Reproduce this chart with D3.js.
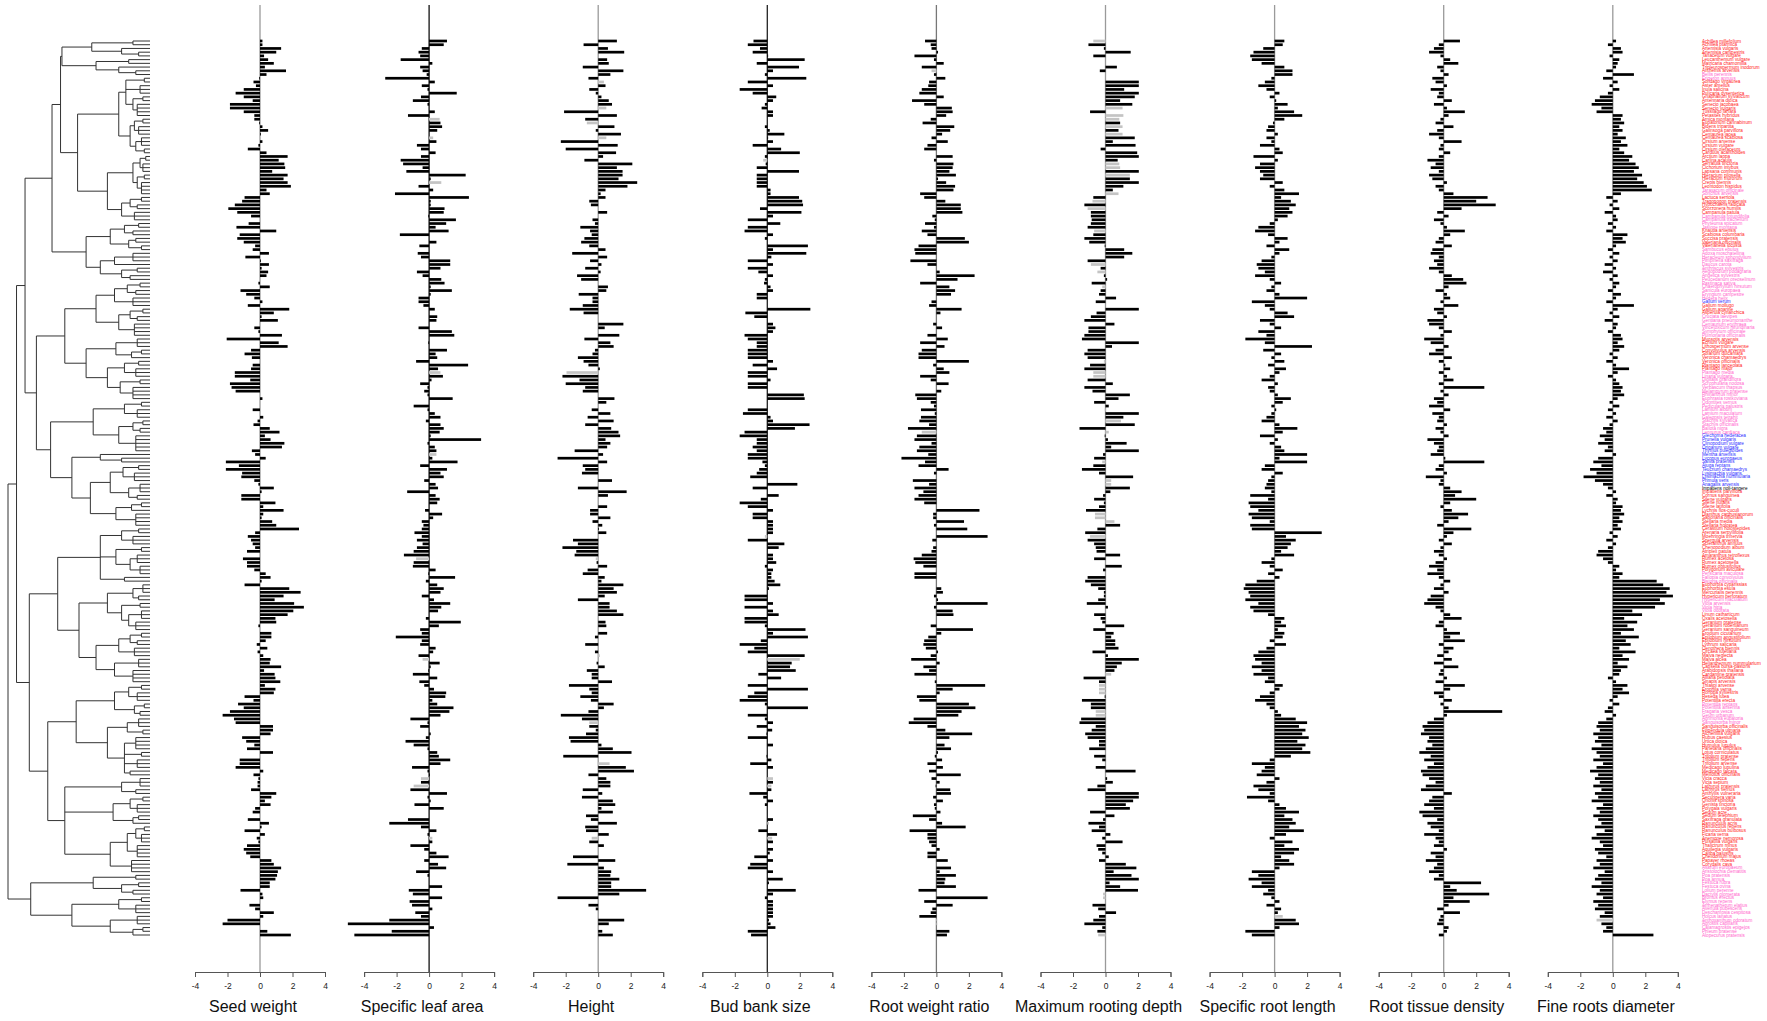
<!DOCTYPE html>
<html><head><meta charset="utf-8">
<script src="https://cdn.jsdelivr.net/npm/d3@7"></script>
<style>body{margin:0;background:#fff}svg{display:block;font-family:"Liberation Sans",Arial,sans-serif}</style>
</head><body><svg id="c" width="1767" height="1021"></svg>
<script>
const traits = ["Seed weight","Specific leaf area","Height","Bud bank size","Root weight ratio","Maximum rooting depth","Specific root length","Root tissue density","Fine roots diameter"];
const tickValues = [-4,-2,0,2,4];

const seedWeight = [
0.15,0.15,1.3,1.0,0.25,0.5,0.85,0.3,1.6,0.4,
-0.05,-0.4,-0.25,-1.0,-1.5,-1.0,-0.45,-1.85,-1.85,-1.0,
-0.35,-0.35,-0.05,0.15,0.5,0.05,0,0.15,-0.1,-0.75,
0.4,1.7,1.15,1.5,1.55,0.75,1.7,1.45,1.7,1.9,
0.4,0.6,-0.95,-1.1,-1.55,-1.95,-1.4,-0.55,0,-0.7,
-1.45,1.0,-1.25,-1.4,-1.0,-0.3,-0.45,0.55,-0.9,0.05,
0.55,0.1,0.5,0.4,0,-0.1,0.6,-1.2,-0.85,-0.35,
0.15,-0.75,1.8,0.85,0.1,1.1,0,-0.35,-0.1,1.35,
-2.05,1.15,1.7,-0.55,-0.95,-0.5,0,-0.45,-0.55,-1.55,
-1.55,-0.6,-1.85,-1.75,-1.5,0,0.15,0,0,-0.45,
0,0.2,-0.15,-0.4,0.6,1.2,0.3,0.65,1.5,1.35,
-0.5,-0.3,0.35,-2.1,-1.3,-2.1,-1.1,-1.15,-0.35,-0.1,
0.85,0.1,-1.15,-1.15,0.95,0.2,1.45,0.2,0.1,0.75,
1.0,2.4,-0.3,-0.75,-0.55,-0.45,-0.3,-0.8,0,-1.05,
-0.8,-0.8,-0.35,0.35,0.65,0.1,-0.95,1.8,2.5,1.45,
0.9,2.1,2.7,2.05,1.7,0.95,1.0,-0.1,0,0.7,
0.7,0.35,-0.2,0.45,-0.15,0.2,0.65,0.6,1.3,0.25,
0.9,0.95,1.25,0.3,0.95,0.85,-0.95,-0.4,-1.35,-1.0,
-1.85,-2.3,-1.6,-1.5,0.8,0.8,0.65,-1.1,-0.85,-0.35,
-0.8,0.8,0,-1.25,-1.25,-1.5,0.2,-0.4,-0.1,-0.15,
-0.15,-0.55,1.0,0.7,0.3,0.65,-0.3,-0.45,0,-0.75,
0.55,0.1,-0.95,0.3,-0.2,-0.1,-0.8,-1.0,-0.85,-0.6,
0.7,0.85,1.3,1.1,1.05,0.95,0.6,0.6,-1.2,0.15,
0.2,0,-0.65,-0.3,0.85,0.2,-2.0,-2.3,0,0.45,
1.9];
const seedWeightImputed = [];

const specificLeafArea = [
1.1,0.9,-0.45,-0.65,-0.55,-1.75,0.2,-0.55,-0.4,-0.15,
-2.7,0.35,-0.45,-0.1,1.7,-0.5,-1.0,-0.1,0,0.35,
-1.3,0.65,0.7,0.8,0.5,0,0.25,0.45,-0.75,-0.5,
0.4,-0.5,-1.75,-1.6,-0.4,-1.4,2.25,0.1,0.75,-0.65,
0.25,-2.1,2.45,0.1,0.1,0.95,0.9,-0.05,1.65,1.05,
0.4,1.2,-1.8,0,0.45,-0.6,0,-0.7,-0.5,1.3,
1.3,0.7,-0.75,-0.4,0.75,0.95,0.1,1.4,0.1,-0.65,
-0.65,-0.35,0.35,0,0.5,0.45,0,-0.65,1.4,1.55,
0,-0.05,0,1.1,0.4,0.5,-0.8,2.4,0.55,0.7,
0.85,0.15,-0.55,-0.1,-0.3,-0.1,1.45,0,-0.95,-0.1,
0.35,0.7,-0.2,0.7,0.9,0.65,0.1,3.2,-0.1,0.35,
0.45,0.45,0.2,1.75,-0.55,1.1,0.7,0.9,-0.3,0.4,
0.55,-1.35,0.4,0.65,0.5,0,-0.25,0.8,0.25,-0.45,
-0.35,-0.45,-0.9,-0.45,-0.75,-0.4,-0.75,-0.95,-1.55,-0.8,
-0.95,-1.0,0.4,-0.05,1.6,-0.2,0.5,0.9,0.7,-0.45,
0.3,1.3,0.75,0.55,0,-0.2,1.95,0.6,-0.55,-0.45,
-2.05,-0.45,-0.55,0.4,0.25,-0.65,-0.4,0.65,0.1,-0.05,
-1.0,0.5,-0.6,-0.3,0.3,1.05,1.0,0.2,0.5,1.5,
1.25,0.7,-1.15,-0.1,-0.55,0,0.1,-0.2,-1.45,-0.95,
-0.1,0.5,0.6,1.3,0.7,-1.05,-0.1,0.05,-0.5,-0.5,
-0.95,-1.15,1.1,-0.1,0.1,-0.9,0.9,0,0,-1.3,
-2.45,-0.5,0.45,-0.1,0.2,0.2,-1.15,-0.3,0.45,1.2,
-0.3,0.55,1.05,-0.8,-0.1,0,0,0.8,-1.25,-1.0,
0.8,-1.2,-1.05,0.2,-0.85,-0.5,-2.45,-5.0,0.3,-2.3,
-4.6];
const specificLeafAreaImputed = [21,26,38,89,111,139,166,198,200,214];

const height = [
1.15,-0.9,0.6,1.6,0,0.55,0.65,-0.95,1.55,0.75,
-0.6,0.35,0.45,-0.55,-0.15,0.2,0.65,0.85,0.5,-2.1,
1.15,-0.8,-0.7,1.0,-0.15,1.4,0.5,-2.3,1.2,-2.0,
1.1,0.3,-0.85,2.1,1.15,1.5,1.5,1.25,2.4,1.8,
0.45,0.15,0.45,-0.55,-0.45,0,0.55,0,-0.35,-0.2,
-1.1,-0.5,-0.4,-0.85,-1.05,-0.55,0.45,-1.6,0.55,-0.5,
0.2,-0.8,0.15,-1.3,-1.05,0,0.6,0.5,-1.2,-0.35,
-0.35,-0.95,-1.75,-0.9,0,0,1.55,0.4,0,1.3,
-0.85,0.75,0.95,-0.2,-0.35,-1.25,-0.9,-0.6,0.1,-1.95,
-2.2,-1.15,-2.0,-0.8,-0.95,0,1.0,0.5,0,-0.4,
0.75,-0.65,0.95,-0.8,0.8,1.25,1.35,0.45,0.75,0.55,
-1.45,0.3,-2.5,0.55,-0.95,-0.8,-1.0,0,0.85,0,
-1.25,1.75,0.6,0,0,0.55,-0.5,-0.5,0.75,-0.35,
0.25,0.05,0.5,0,-1.55,-1.25,-2.2,-1.35,-1.45,-0.15,
-0.1,0.55,-0.65,-0.95,0.4,0.2,1.55,0.95,1.15,0.4,
-1.25,0.7,0.7,1.15,1.55,0,0.45,0.5,0,0.55,
-0.2,0,-0.8,0,-0.2,0.1,0,-0.1,0.4,-0.7,
-0.4,-0.4,0.85,-1.8,-0.55,-0.4,-1.1,-0.45,0.95,0.35,
-0.6,-2.3,-1.0,-0.55,-0.55,-0.15,-0.75,-1.8,-1.7,0.2,
0.9,2.05,-2.15,0,0.7,1.7,2.2,-0.6,0.5,0.75,
0.75,-0.95,0.25,-1.0,0.9,1.05,0.2,0.9,-0.75,-0.45,
1.15,-0.8,-0.75,0.65,-0.4,-0.55,0.35,0,0,-1.55,
1.05,-1.9,0.35,0.8,0.75,1.3,0.8,0.8,2.95,1.3,
-2.5,0,-0.6,-0.15,0,0,1.6,0.65,0,0.25,
0.9];
const heightImputed = [11,18,22,26,89,139,165,183,194,214];

const budBankSize = [
-0.85,-1.2,-0.45,-0.9,0.05,2.3,-0.65,1.95,0.35,-0.15,
2.4,-1.2,0.35,-1.7,-0.9,0.55,0.35,-0.15,-0.35,0.35,
0.35,0,0,-0.15,0.15,1.05,0.05,0.35,-0.9,0.85,
2.0,-0.15,-0.25,-0.1,-0.65,1.95,-0.65,-0.65,-0.65,-0.65,
0.2,0.2,1.95,2.15,2.2,-0.45,2.1,0.35,-1.2,0.8,
-1.2,-1.4,0.35,-0.15,0,2.5,0.35,2.4,0.25,-1.2,
0.35,-1.2,-0.55,0.35,-0.15,-0.2,0.2,0.35,-0.65,-0.65,
0,0,2.65,-1.35,-0.8,0,0.35,0.5,0.35,-1.4,
-1.2,-0.65,-0.65,-1.2,-1.2,-1.2,0.35,-0.9,0.6,-1.2,
-1.2,0.2,-1.2,-1.2,0,2.25,2.3,0,0,-1.2,
-1.5,0.2,0.35,2.6,1.7,-1.4,-1.7,-0.65,-0.65,-0.9,
-0.65,-1.2,-1.2,-0.3,-0.15,-0.5,-0.65,-1.05,0,1.85,
-0.9,0,0.7,-0.4,-1.7,-1.2,0.35,-0.9,-0.9,0.35,
0.35,0.35,0.35,-0.15,-1.2,1.05,0.7,0,0.35,0.35,
0.55,-0.15,0.35,0.25,0.25,0.45,0.8,0.1,0,-1.4,
-1.4,0.35,-1.4,0.35,0.7,-1.4,-1.4,-0.15,2.35,0.35,
2.5,-0.4,-1.7,-0.8,-1.2,2.3,2.0,1.5,1.4,1.75,
-0.55,0.85,0,-1.2,2.5,-0.8,-1.2,-1.7,-0.15,2.5,
0,-1.2,-0.15,0.35,-0.65,0.3,-0.05,-1.2,0,0.35,
0,0,-0.05,0.25,-1.05,0.35,0,0,0.35,0.35,
0.25,0.25,-1.1,-0.25,0.35,-0.15,0,0,0,0.35,
0.1,0,-0.55,0.6,0.3,0.35,0,0.35,0.15,-0.8,
0.35,-1.05,-1.2,0.35,0,0.95,0.1,0,1.75,0.35,
-0.15,0.35,0.35,0.35,0.35,0.35,0.1,0.2,0.5,-1.2,
-1.0];
const budBankSizeImputed = [32,133,166,198,200,210,214];

const rootWeightRatio = [
-0.7,-0.35,-0.3,0.1,-1.35,-0.15,0.45,-0.9,-0.3,-0.15,
0.55,-0.45,-0.5,-0.9,-1.05,0.45,-1.5,-0.75,0.95,1.0,
0.6,-0.35,-0.85,1.1,0.85,0.35,-0.3,0.7,-0.55,-0.75,
0,1.0,-0.15,1.05,1.0,0.8,1.2,0.1,0.6,1.15,
1.05,-1.0,-0.75,0.55,1.5,1.5,1.6,-0.25,-0.1,-0.7,
-0.15,-0.9,-0.55,1.75,2.0,-1.1,-1.35,-1.3,0,-1.6,
-0.55,0,0.2,2.35,1.3,-1.0,0.8,1.15,0.9,0,
-0.3,-0.45,1.55,0.25,0,0,-0.2,0.35,0,-0.55,
0.7,-1.0,0.5,-0.9,-1.1,-1.1,2.0,-0.2,0.45,0.8,
-1.0,-0.35,0.75,0,0.3,-1.3,-1.2,-0.35,-0.15,-0.95,
-0.1,-0.95,-1.05,-0.45,-1.75,-0.9,-1.2,-1.35,-0.3,-1.05,
-1.2,-0.5,-2.15,-0.7,-1.1,0.75,-0.15,0,-1.45,-0.45,
-1.35,-0.8,-1.1,-1.35,-0.75,0,2.65,-0.2,-0.2,1.7,
-0.15,1.9,0,3.15,-0.25,0,-0.2,-0.3,-0.9,-1.4,
-1.3,-0.8,0,-1.35,-1.35,0,0,0.3,0.4,-0.15,
0.1,3.15,-0.15,1.0,1.05,0,0,-0.35,2.25,0.3,
-0.5,-0.75,-0.8,-0.65,0.1,-0.35,-1.55,0.2,-0.8,-0.45,
-1.35,0,-0.1,3.0,1.0,0.2,-1.2,-1.05,2.0,2.4,
1.55,1.35,-1.4,-1.7,-0.55,0.55,2.2,0.8,0,0.5,
0.9,0.1,-0.1,0.35,-0.55,0.4,-0.45,1.5,-0.3,0.2,
-0.05,0.85,0.9,-0.2,0.4,-0.15,-0.1,0.25,-1.45,-0.45,
0.35,1.8,-1.65,-0.55,-0.55,-0.45,-0.3,0.2,-0.55,-0.55,
0.7,0,0.9,0.2,1.2,0.55,0.5,1.2,-1.1,0,
3.15,-0.75,1.0,-0.25,-0.35,-1.05,0.05,0.05,0,0.8,
0.65];
const rootWeightRatioImputed = [8,105,236,237];

const maxRootingDepth = [
-0.75,-1.05,-0.1,1.55,-0.75,0,0,0.7,-0.35,0,
0,2.05,2.05,1.15,2.05,1.8,0.9,1.65,1.05,-0.95,
1.1,0.85,0.9,1.05,0.8,1.05,1.8,0.45,1.85,-0.3,
1.95,2.05,0.75,0.85,0.9,2.05,1.5,1.5,2.05,1.1,
0.45,0.8,-0.75,-0.8,-1.3,-1.1,-0.9,-0.9,-0.85,-0.9,
-1.1,-0.7,-0.75,-1.3,-1.0,-0.05,1.15,1.65,1.15,-1.1,
-0.9,-0.3,-0.5,-0.1,0.1,-0.85,-0.2,-0.3,-0.4,0.65,
-0.6,0,2.05,-0.55,-0.9,-1.3,0.55,-1.05,-1.05,-1.3,
-1.45,2.05,0.4,-1.1,-1.3,-1.1,-0.1,-0.95,-1.3,-0.75,
-0.75,-1.1,0.45,-1.3,-0.8,1.5,0.8,-0.7,0.2,-0.05,
2.05,1.1,0.95,1.8,-1.6,0.2,-0.05,0.15,1.3,0.35,
2.05,-0.15,-0.7,-0.2,-0.75,-1.45,-0.4,1.7,0.35,0.35,
1.5,0.3,-0.15,-0.7,-0.1,-0.4,-1.2,-0.65,-0.65,0.55,
0.9,-0.5,-1.25,-0.95,-1.1,-0.7,-0.6,-0.55,0.9,-0.7,
0,1.0,-0.15,0,-1.1,-1.25,-0.9,-0.45,-0.1,-0.1,
-0.45,-1.15,0.15,0,-0.7,-0.3,-0.2,1.15,-0.75,0.5,
0.35,0.6,0.6,0.8,-0.8,0.15,2.05,1.0,0.7,0.55,
0.35,-1.35,-0.4,-0.4,-0.4,-0.4,-0.05,-1.45,-0.9,-0.9,
-0.6,-0.6,-1.5,-1.6,-0.6,-0.85,-1.25,-1.1,-0.4,-0.4,
-1.0,0,-0.7,-0.2,0,-0.6,1.85,0,0.1,0.45,
-0.5,-1.1,2.05,2.05,1.7,1.25,1.5,-0.95,0.55,-0.15,
-1.05,-0.4,-0.85,0.3,-0.2,1.05,-0.55,-0.45,-0.2,0.2,
-0.4,1.25,1.9,0.5,1.6,2.05,0.25,0.9,2.0,-0.15,
-0.15,0,-0.8,-0.45,0.65,-0.4,-0.75,-1.3,-0.2,-0.5,
-0.45];
const maxRootingDepthImputed = [0,18,20,21,23,25,33,34,36,41,43,45,51,60,62,66,86,89,90,99,102,105,113,118,119,127,128,129,133,170,173,174,175,180,181,229,230,240];

const specificRootLength = [
0.6,0.5,-0.7,-1.3,-1.5,-1.4,-0.8,0.6,1.1,1.1,
-0.2,-0.6,-1.0,-0.5,0.3,-0.3,0.1,0.8,0.2,1.2,
1.7,0.6,-0.1,-0.4,-0.5,0.2,-0.5,-0.2,-0.9,0.3,
0.5,-1.3,0.2,-0.9,-1.2,-0.9,-0.7,-0.9,0.5,-0.3,
0.6,1.5,0.4,1.0,1.3,0.9,1.1,0.8,0.2,-0.3,
-1.0,-1.2,-0.4,0.8,0.3,-0.5,0.9,0.3,-0.2,-0.8,
-1.1,-1.0,-0.6,-1.2,-0.3,0.4,-0.2,-0.5,0.3,2.0,
-1.4,-0.6,-0.3,0.8,1.2,-0.9,-0.3,0.4,-1.0,-0.5,
-1.8,-0.6,2.3,-0.7,0.4,-0.2,0.6,-0.4,0.7,0.3,
-0.3,-0.8,0.2,-0.4,-0.3,0.2,1.0,0.5,-0.2,0.1,
-0.2,-0.5,-0.8,0.3,1.4,0.5,-0.9,0.2,-0.3,0.4,
0.6,2.0,0.3,2.0,-0.6,-0.8,0.5,-0.2,-0.4,-0.5,
-0.6,-0.2,-1.5,-0.4,-1.6,-1.5,-1.0,-1.6,-1.4,-0.3,
-1.5,-1.4,2.9,0.7,1.3,1.0,0.8,0.4,1.2,-0.2,
-0.8,-0.3,0.5,-0.4,0.3,-1.1,-1.8,-1.9,-1.6,-1.5,
-1.8,-1.0,-1.5,-1.3,-0.4,0.6,0.4,0.7,0.2,0.6,
0.5,-0.3,0.7,-0.5,-1.0,-1.3,-1.2,-0.8,-1.4,-0.8,
-1.3,-0.4,-0.6,0.5,0.3,-0.3,-0.9,-1.2,-0.5,-0.3,
0.2,0.4,1.3,2.0,1.5,1.9,1.7,2.1,1.4,1.9,
1.7,2.2,1.0,-0.3,-1.4,-0.6,-0.8,-1.1,0.3,-0.5,
-1.3,-1.0,-0.3,-1.7,-0.4,0.3,0.7,1.5,0.6,1.1,
1.3,0.9,1.8,0.7,-0.3,1.1,0.6,1.5,1.2,0.4,
0.9,1.2,0.3,-1.4,-1.0,-1.6,-0.8,-1.4,-0.4,-0.7,
-0.2,0.3,-0.5,0.4,0.2,0.5,1.3,1.5,0.3,-1.8,
-1.4];
const specificRootLengthImputed = [235];

const rootTissueDensity = [
1.0,-0.3,-0.6,-0.9,-0.2,0.4,0.9,-0.4,-0.2,0.3,
-0.7,-0.5,0.2,-0.8,-0.3,-0.4,0.5,-0.6,0.2,1.3,
0.3,-0.2,-0.5,0.6,-0.4,-0.9,-0.3,1.1,-0.2,-0.3,
0.4,-0.3,-1.0,-0.5,-0.8,-0.3,-0.9,-0.7,0.2,-0.5,
-0.3,0.6,2.7,2.0,3.2,1.1,-0.4,0.3,-0.6,-0.2,
0.2,1.3,0.4,-0.3,-0.5,0.5,-0.7,-0.8,-0.3,-0.6,
-0.4,-0.9,-0.3,0.5,1.2,1.4,0.3,-0.5,0.2,0.4,
-0.2,0.9,-0.6,-0.4,0.2,-1.0,-0.9,-0.3,0.5,-0.2,
-1.2,-0.8,0.3,-0.5,-0.9,0.5,-0.3,0.1,0.4,-0.3,
0.2,0.6,-0.3,2.5,-0.2,0.3,-0.6,-0.4,-0.9,0.4,
-0.7,-0.3,-0.4,0.2,-0.5,-0.2,0.3,-1.0,-0.6,-0.3,
-0.4,-0.8,0.1,2.5,-0.3,-0.5,0.2,-1.1,-0.2,-0.3,
0.4,1.1,0.7,2.0,0.4,-0.2,0.5,1.5,0.9,0.3,
-0.4,1.7,0.6,0.2,-0.3,0.5,-0.2,-0.6,-0.3,0.2,
-0.5,-0.9,-0.4,-1.0,-0.3,0.4,-0.2,-0.6,0.3,-0.8,
-1.0,-1.2,-0.5,-0.2,0.4,1.1,-0.3,-0.5,0.2,1.0,
0.4,1.3,-0.3,0.6,0.3,-0.4,0.5,-0.6,0.9,-0.2,
-0.3,0.2,-0.5,1.3,0.4,-0.6,-0.3,0.5,-0.2,0.3,
3.6,0.2,-0.6,-1.0,-1.3,-1.2,-1.4,-0.9,-1.0,-0.7,
-1.1,-1.5,-0.8,-1.2,-0.6,-1.0,-1.4,-1.3,-0.9,-0.5,
-1.1,-1.4,0.5,-0.7,-0.9,-1.2,-0.6,-1.5,-1.3,-0.4,
-1.0,-0.8,-0.3,-1.2,-0.5,-0.3,-0.6,0.2,-0.8,-0.5,
-1.1,-0.4,-0.6,-0.9,-0.3,-0.6,2.3,0.4,0.8,2.8,
0.6,1.6,0.3,-0.4,1.0,-0.2,-0.3,-0.4,0.3,0.2,
-0.3];
const rootTissueDensityImputed = [];

const fineRootsDiameter = [
0.2,-0.3,0.5,0.6,-0.2,0.4,0.3,0.2,-0.4,1.3,
-0.6,0.3,-0.2,0.4,-0.3,-0.8,-1.1,-1.3,-0.7,-1.0,
0.6,0.5,0.7,0.4,0.6,0.3,0.8,0.5,0.9,0.4,
0.7,1.2,1.0,1.4,1.6,1.3,1.8,1.5,1.9,2.1,
2.4,0.5,-0.4,0.3,-0.2,0.4,-0.5,0.2,0.3,-0.3,
0.2,-0.4,0.9,0.6,0.8,0.2,-0.3,0.4,-0.2,0.3,
-0.5,0.2,-0.6,0.3,-0.2,0.4,0.2,-0.3,0.5,0.2,
-0.4,1.3,0.3,-0.2,0.4,-0.5,0.3,0.2,-0.3,0.5,
0.6,0.3,0.7,0.4,-0.2,0.3,-0.4,0.2,1.0,0.3,
-0.3,0.2,0.4,0.6,0.5,0.7,0.3,-0.2,0.4,-0.3,
0.2,-0.4,0.3,-0.2,-0.6,-0.4,-0.8,-0.5,-0.9,-0.3,
-0.5,0.2,-0.9,-1.2,-0.7,-1.4,-1.0,-1.8,-1.1,-0.6,
-0.3,0.2,-0.4,0.3,0.2,0.6,0.5,0.7,0.4,0.6,
0.3,0.5,-0.2,0.3,-0.4,0.2,-0.3,-0.9,-1.0,-0.6,
-0.3,0.4,0.2,0.6,0.4,2.7,3.1,3.5,3.3,3.7,
2.9,3.2,2.6,1.2,1.8,0.7,1.5,0.9,1.3,0.5,
1.6,0.8,1.1,0.4,1.4,0.6,1.0,0.3,0.9,0.5,
0.4,-0.3,0.2,0.9,0.6,1.0,0.3,-0.2,0.4,-0.3,
-0.5,0.2,-0.4,-0.9,-1.0,-0.8,-1.2,-0.9,-1.1,-0.7,
-1.3,-1.0,-0.8,-1.2,-0.6,-1.0,-1.4,-0.9,-1.1,-0.8,
-1.2,-0.7,-1.1,-0.9,-1.3,-0.6,-1.0,-0.8,-1.2,-0.9,
-0.7,-1.1,-0.5,-1.0,-1.3,-0.8,-0.6,-1.1,-0.9,-0.4,
-1.0,-0.8,-1.2,-0.5,-0.9,-1.1,-0.7,-1.3,-0.8,-1.0,
-0.6,-1.2,-0.9,-1.1,-0.5,-0.8,-1.0,-0.7,-0.4,-0.6,
2.5];
const fineRootsDiameterImputed = [236];

// phylogeny: "*" = tip, "*n" = n sister tips, number after ")" = node age (root = 100)
const cladeA = "(((*2)12,(*,(*2)8)20)41,((*2)15,(*,(*2)10)22)38)62";
const cladeC = "((((*2)4,(*3)7,((*2)5,(*4)9)12)17,(((*2)5,(*3)8)11,((*3)6,(*2)4)10)14)22,((((*2)3,(*3)5)7,((*2)4,(*4)6)9)12,(((*2)6,(*2)9)14,(*3)11)20)30)51";
const cladeE = "((((*2)8,(*2)12)18,((*2)10,(*2)6)15)28,(((*3)12,*)25,((*2)9,(*2)14)20)35)45";
const cladeF = "(((((*2)7,(*2)10)16,(*3)12)25,(((*2)5,(*2)9)14,(*4)11)22)38,(((*3)9,((*2)6,*)13)24,(((*2)8,(*3)10)18,((*2)7,(*4)12)21)30)45)60";
const cladeG = "((((*2)6,(*3)9)18,(((*2)5,(*2)7)12,(*5)10)22)40,((*,(*2)20)35,((((*2)8,(*3)11)19,((*3)7,(*2)9)15)28,(((*2)6,*)13,(*4)10)24)42)55)70";
const cladeH = "((((*2)8,(*3)12)20,((*2)6,((*3)9,(*3)7)14)24,(*2)18)35,((((*3)5,(*2)8)12,((*2)7,((*3)6,(*3)10)15)20)30,((((*2)6,(*2)9)14,(*3)11)22,((*3)8,(*4)12)25)38)50)65";
const cladeI1 = "((((*2)6,(*3)9)15,((*2)4,(*2)7)11)25,(((*3)8,(*2)5)16,((*4)10,(*2)6,(*3)9,(*2)14)18)30)52";
const cladeI2 = "(((*3)7,(*2)10)20,(((*2)5,(*3)9)14,((*2)8,*)12)26,((((*2)4,(*3)6)10,(*4)9)16,(*4)13)28)60";
const cladeL = "(((*2)10,((*2)8,(*2)12)20)40,(((*2)6,(*3)10)22,((*3)9,((*2)5,*)12)28)55)84";
const phylogeny = `(((((${cladeA},${cladeC})63,${cladeE})69,(${cladeF},${cladeG})80)88,(${cladeH},(${cladeI1},${cladeI2})72)85)94,${cladeL})100`;

const species = ("Achillea millefolium;Achillea ptarmica;Artemisia vulgaris;Artemisia campestris;Tanacetum vulgare;Leucanthemum vulgare;Matricaria chamomilla;Tripleurospermum inodorum;Anthemis arvensis;Bellis perennis;Erigeron annuus;Solidago virgaurea;Aster amellus;Inula salicina;Pulicaria dysenterica;Gnaphalium sylvaticum;Antennaria dioica;Senecio jacobaea;Senecio vulgaris;Tussilago farfara;Petasites hybridus;Arnica montana;Eupatorium cannabinum;Bidens tripartita;Galinsoga parviflora;Centaurea jacea;Centaurea scabiosa;Cirsium arvense;Cirsium vulgare;Cirsium oleraceum;Carduus acanthoides;Arctium lappa;Carlina acaulis;Serratula tinctoria;Cichorium intybus;Lapsana communis;Hieracium pilosella;Hieracium murorum;Crepis biennis;Leontodon hispidus;Taraxacum officinale;Sonchus arvensis;Lactuca serriola;Tragopogon pratensis;Hypochaeris radicata;Scorzonera humilis;Campanula patula;Campanula rotundifolia;Campanula trachelium;Phyteuma spicatum;Jasione montana;Knautia arvensis;Scabiosa columbaria;Succisa pratensis;Valeriana officinalis;Valerianella locusta;Sambucus ebulus;Adoxa moschatellina;Heracleum sphondylium;Pimpinella saxifraga;Daucus carota;Anthriscus sylvestris;Aegopodium podagraria;Angelica sylvestris;Peucedanum oreoselinum;Pastinaca sativa;Chaerophyllum hirsutum;Sanicula europaea;Eryngium campestre;Hedera helix;Galium verum;Galium mollugo;Galium aparine;Asperula cynanchica;Cruciata laevipes;Gentiana pneumonanthe;Centaurium erythraea;Vincetoxicum hirundinaria;Symphytum officinale;Pulmonaria officinalis;Myosotis arvensis;Echium vulgare;Lithospermum arvense;Convolvulus arvensis;Solanum dulcamara;Veronica chamaedrys;Veronica officinalis;Plantago lanceolata;Plantago major;Plantago media;Linaria vulgaris;Digitalis grandiflora;Scrophularia nodosa;Verbascum thapsus;Melampyrum pratense;Rhinanthus minor;Euphrasia rostkoviana;Odontites vernus;Pedicularis palustris;Lamium album;Lamium maculatum;Galeopsis tetrahit;Stachys sylvatica;Stachys officinalis;Ballota nigra;Leonurus cardiaca;Glechoma hederacea;Prunella vulgaris;Clinopodium vulgare;Origanum vulgare;Thymus pulegioides;Mentha arvensis;Lycopus europaeus;Salvia pratensis;Ajuga reptans;Teucrium chamaedrys;Lysimachia vulgaris;Lysimachia nummularia;Primula veris;Anagallis arvensis;Impatiens noli-tangere;Impatiens parviflora;Cornus sanguinea;Silene vulgaris;Silene nutans;Silene latifolia;Lychnis flos-cuculi;Dianthus carthusianorum;Saponaria officinalis;Stellaria media;Stellaria holostea;Cerastium holosteoides;Arenaria serpyllifolia;Moehringia trinervia;Spergula arvensis;Scleranthus annuus;Chenopodium album;Atriplex patula;Amaranthus retroflexus;Rumex acetosa;Rumex acetosella;Rumex obtusifolius;Polygonum aviculare;Persicaria maculosa;Fallopia convolvulus;Bistorta officinalis;Euphorbia cyparissias;Euphorbia esula;Mercurialis perennis;Hypericum perforatum;Hypericum maculatum;Viola arvensis;Viola hirta;Viola odorata;Linum catharticum;Oxalis acetosella;Geranium pratense;Geranium robertianum;Geranium sanguineum;Erodium cicutarium;Epilobium angustifolium;Epilobium hirsutum;Lythrum salicaria;Oenothera biennis;Circaea lutetiana;Malva neglecta;Malva alcea;Helianthemum nummularium;Capsella bursa-pastoris;Arabidopsis thaliana;Cardamine pratensis;Alliaria petiolata;Sinapis arvensis;Thlaspi arvense;Erophila verna;Rorippa sylvestris;Reseda lutea;Potentilla erecta;Potentilla reptans;Potentilla anserina;Fragaria vesca;Geum urbanum;Agrimonia eupatoria;Sanguisorba minor;Sanguisorba officinalis;Filipendula ulmaria;Alchemilla vulgaris;Rubus caesius;Urtica dioica;Humulus lupulus;Parietaria officinalis;Lotus corniculatus;Trifolium pratense;Trifolium repens;Trifolium arvense;Medicago lupulina;Medicago falcata;Melilotus officinalis;Vicia cracca;Vicia sepium;Lathyrus pratensis;Lathyrus vernus;Anthyllis vulneraria;Securigera varia;Ononis spinosa;Genista tinctoria;Polygala vulgaris;Sedum acre;Sedum telephium;Saxifraga granulata;Ranunculus acris;Ranunculus repens;Ranunculus bulbosus;Ficaria verna;Anemone nemorosa;Pulsatilla vulgaris;Thalictrum minus;Aquilegia vulgaris;Caltha palustris;Chelidonium majus;Papaver rhoeas;Corydalis cava;Asarum europaeum;Aristolochia clematitis;Poa pratensis;Poa annua;Festuca rubra;Festuca ovina;Lolium perenne;Dactylis glomerata;Bromus erectus;Elymus repens;Arrhenatherum elatius;Avenula pubescens;Deschampsia cespitosa;Holcus lanatus;Anthoxanthum odoratum;Agrostis capillaris;Calamagrostis epigejos;Phleum pratense;Alopecurus pratensis").split(";");

// label group per species, as runs of [group, count]
const speciesGroupRuns = [["r",9],["p",2],["r",29],["p",2],["r",5],["p",4],["r",5],["p",14],["b",1],["r",3],["p",6],["r",9],["p",17],["b",14],["k",1],["r",22],["p",3],["r",4],["p",4],["r",24],["p",6],["r",38],["p",19]];

// ---------------- drawing ----------------
const svg = d3.select("#c");
const series = [seedWeight,specificLeafArea,height,budBankSize,rootWeightRatio,maxRootingDepth,specificRootLength,rootTissueDensity,fineRootsDiameter];
const imputed = [seedWeightImputed,specificLeafAreaImputed,heightImputed,budBankSizeImputed,rootWeightRatioImputed,maxRootingDepthImputed,specificRootLengthImputed,rootTissueDensityImputed,fineRootsDiameterImputed];
const zeroLineColor = ["#9a9a9a","#111","#9a9a9a","#222","#777","#9a9a9a","#9a9a9a","#9a9a9a","#9a9a9a"];
const N = 241;
const y = d3.scalePoint().domain(d3.range(N)).range([41,935]);
const panelX = d3.scalePoint().domain(d3.range(traits.length)).range([260,1612.8]);
const axisY = 972;

series.forEach((vals,i)=>{
  const cx = panelX(i);
  const x = d3.scaleLinear().domain([-4,4]).range([cx-65,cx+65]);
  const g = svg.append("g");
  g.append("line").attr("x1",x(0)).attr("x2",x(0)).attr("y1",5).attr("y2",axisY)
    .attr("stroke",zeroLineColor[i]).attr("stroke-width",1.3);
  const gs = new Set(imputed[i]);
  g.selectAll("rect").data(vals).join("rect")
    .attr("x",d=>x(Math.min(0,d))).attr("width",d=>Math.abs(x(d)-x(0)))
    .attr("y",(d,k)=>y(k)-1.35).attr("height",2.7)
    .attr("fill",(d,k)=>gs.has(k)?"#c4c4c4":"#000");
  const ax = g.append("g").attr("transform",`translate(0,${axisY})`)
    .call(d3.axisBottom(x).tickValues(tickValues).tickSize(5).tickPadding(6).tickFormat(d=>String(d)));
  ax.select(".domain").attr("stroke","#555");
  ax.selectAll(".tick line").attr("stroke","#555");
  ax.selectAll(".tick text").attr("font-size",8.5).attr("fill","#222").attr("font-family","Liberation Sans, Arial, sans-serif");
  g.append("text").attr("x",cx-7).attr("y",1012).attr("text-anchor","middle")
    .attr("font-size",16).attr("fill","#111").text(traits[i]);
});

// species labels
const groupColor = d3.scaleOrdinal().domain(["r","p","b","k"]).range(["#ff1a1a","#ff66cc","#2b2bff","#000"]);
const speciesGroup = speciesGroupRuns.flatMap(([g,n])=>Array(n).fill(g));
svg.append("g").selectAll("text").data(d3.range(N)).join("text")
  .attr("x",1702).attr("y",k=>y(k)+1.5).attr("font-size",4.6)
  .attr("fill",k=>groupColor(speciesGroup[k]))
  .text(k=>species[k]||"");

// phylogeny
function parseTree(s){
  let i=0, tip=0;
  const num=()=>{const m=/^[0-9.]+/.exec(s.slice(i)); if(m){i+=m[0].length; return +m[0];} return null;};
  function node(){
    if(s[i]==="("){
      i++; const kids=[];
      while(true){
        const k=node(); if(Array.isArray(k)) kids.push(...k); else kids.push(k);
        if(s[i]===","){i++;continue;}
        if(s[i]===")"){i++;break;}
        throw new Error("bad tree at "+i);
      }
      const a=num();
      if(a===null && kids.length===1) return kids[0];
      return {age:a===null?0:a, children:kids};
    }
    if(s[i]==="*"){
      i++; const n=num()||1; const arr=[];
      for(let j=0;j<n;j++) arr.push({age:0, tip:tip++});
      return n===1?arr[0]:arr;
    }
    throw new Error("bad tree char "+s[i]+" at "+i);
  }
  return node();
}
try {
  const root = d3.hierarchy(parseTree(phylogeny));
  const tx = d3.scaleLinear().domain([100,0]).range([8,150]);
  root.eachAfter(n=>{
    if(n.children) n.yy=(n.children[0].yy+n.children[n.children.length-1].yy)/2;
    else n.yy=y(n.data.tip);
    n.xx=tx(n.data.age);
  });
  const tg = svg.append("g").attr("stroke","#333").attr("stroke-width",1).attr("fill","none");
  root.each(n=>{
    if(!n.children) return;
    tg.append("line").attr("x1",n.xx).attr("x2",n.xx).attr("y1",n.children[0].yy).attr("y2",n.children[n.children.length-1].yy);
    n.children.forEach(c=>tg.append("line").attr("x1",n.xx).attr("x2",c.xx).attr("y1",c.yy).attr("y2",c.yy));
  });
} catch(e) { console.error(e); }
</script></body></html>
